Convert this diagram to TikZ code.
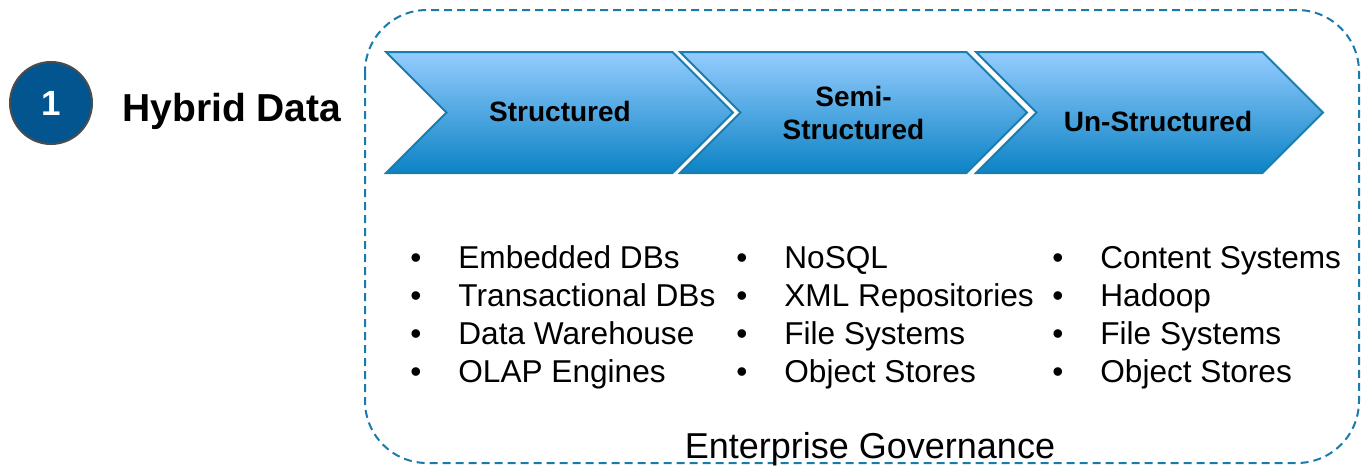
\documentclass[tikz,border=0pt]{standalone}
\usepackage{fontspec}
\setmainfont{Liberation Sans}
\usetikzlibrary{shapes.symbols, positioning}

\definecolor{govblue}{RGB}{26,122,171}
\definecolor{chevtop}{RGB}{148,204,254}
\definecolor{chevbot}{RGB}{12,131,197}
\definecolor{chevline}{RGB}{24,126,176}
\definecolor{badgeblue}{RGB}{3,85,143}

\newcommand{\itembul}{\llap{\textbullet\hspace{18.5pt}}}

\begin{document}
\begin{tikzpicture}[x=0.5pt, y=-0.5pt,
    chevron/.style={
        signal, signal from=west, signal to=east,
        signal pointer angle=90,
        minimum width=173.5pt, minimum height=60.5pt,
        inner sep=0pt,
        top color=chevtop, bottom color=chevbot,
        draw=chevline, line width=1pt
    },
    chevtext/.style={inner sep=0pt, align=center,
        font=\fontsize{14}{16.5}\selectfont\bfseries},
    item/.style={anchor=base west, inner sep=0pt,
        font=\fontsize{15.8}{19}\selectfont},
    govbox/.style={draw=govblue, line width=1pt,
        dash pattern=on 4pt off 2.5pt, rounded corners=31pt}
]
    \useasboundingbox (0,0) rectangle (1361,466);

    % number badge and heading
    \node[circle, minimum size=41pt, inner sep=0pt, fill=badgeblue,
          draw=black!70, line width=1pt, text=white,
          font=\fontsize{17.5}{20}\selectfont\bfseries] (badge) at (51,103) {1};
    \node[anchor=base west, inner sep=0pt,
          font=\fontsize{19.5}{23}\selectfont\bfseries] (title) at (122,121) {Hybrid Data};

    % governance frame
    \draw[govbox] (365,10) rectangle (1359,463);
    \node[anchor=base, inner sep=0pt, font=\fontsize{18}{21}\selectfont]
        (gov) at (870,458) {Enterprise Governance};

    % the three kinds of data
    \node[chevron] (struct) at (559.5,112.5) {};
    \node[chevron] (semi) at (853.5,112.5) {};
    \node[chevron] (unstruct) at (1149.5,112.5) {};
    \node[chevtext, anchor=base] (structlbl) at (560,121) {Structured};
    \node[chevtext] (semilbl) at (853.5,113) {Semi-\\Structured};
    \node[chevtext, anchor=base] (unstructlbl) at (1158,131) {Un-Structured};

    % examples below each kind
    \foreach \txt [count=\i from 0] in {Embedded DBs, Transactional DBs, Data Warehouse, OLAP Engines}
        \node[item] (sitem\i) at (458,{268+38*\i}) {\itembul\txt};
    \foreach \txt [count=\i from 0] in {NoSQL, XML Repositories, File Systems, Object Stores}
        \node[item] (ssitem\i) at (784,{268+38*\i}) {\itembul\txt};
    \foreach \txt [count=\i from 0] in {Content Systems, Hadoop, File Systems, Object Stores}
        \node[item] (usitem\i) at (1100,{268+38*\i}) {\itembul\txt};
\end{tikzpicture}
\end{document}
